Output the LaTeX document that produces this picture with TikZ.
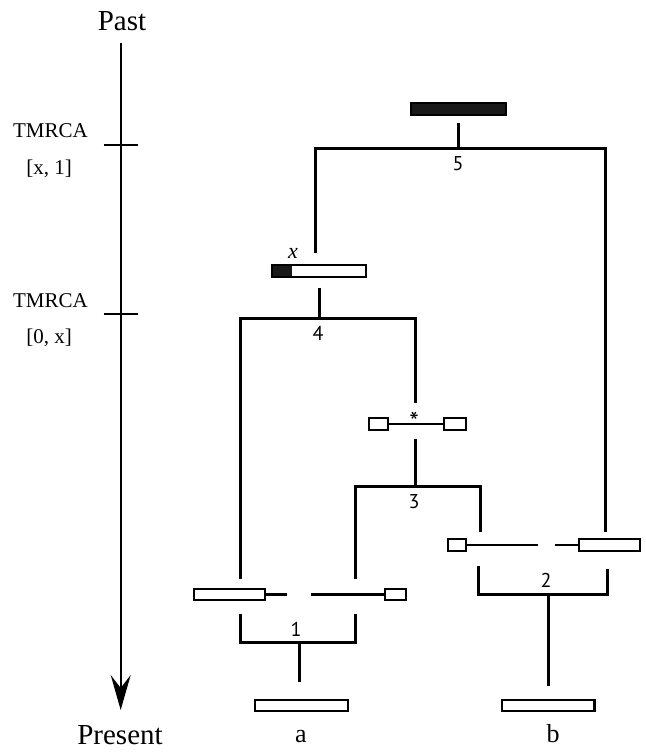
\documentclass[tikz,border=0pt]{standalone}
\usepackage{fontspec}
\setmainfont{Liberation Serif}
\newfontfamily\numfont{PT Sans}
\usepackage{tikz}
\usetikzlibrary{arrows.meta, positioning, calc}

\tikzset{
  seg/.style={draw, line width=2.2pt, fill=white, inner sep=0pt, outer sep=0pt, minimum height=11.3pt},
  ancseg/.style={seg, fill=black!90},
  xseg/.style={seg, path picture={\fill[black!90] (path picture bounding box.north west) rectangle ([xshift=20pt]path picture bounding box.south west);}},
  branch/.style={line width=3pt},
  link/.style={line width=2.2pt},
  timetick/.style={line width=2.2pt},
  evlbl/.style={font=\numfont\fontsize{20}{24}\selectfont, inner sep=0pt, anchor=base},
  bigtxt/.style={font=\fontsize{29}{34}\selectfont, inner sep=0pt, anchor=base},
  smalltxt/.style={font=\fontsize{21}{24}\selectfont, inner sep=0pt, anchor=base},
}

\begin{document}
\begin{tikzpicture}[x=1pt, y=-1pt]
\useasboundingbox (0,0) rectangle (645,752);

% Time axis
\node[bigtxt] (past) at (122,31) {Past};
\node[bigtxt] (present) at (120,744) {Present};
\coordinate (ttop) at (120.7,43);
\coordinate (tbot) at (120.7,710);
\draw[line width=1.7pt, -{Stealth[length=35pt, width=20pt, inset=13pt]}] (ttop) -- (tbot);
\coordinate (tk1) at (120.7,145);
\coordinate (tk2) at (120.7,314);
\draw[timetick] ([xshift=-17pt]tk1) -- ([xshift=17pt]tk1);
\draw[timetick] ([xshift=-17pt]tk2) -- ([xshift=17pt]tk2);
\node[smalltxt] (tm1) at (50.5,137) {TMRCA};
\node[smalltxt] (iv1) at (49,174) {[x, 1]};
\node[smalltxt] (tm2) at (50.5,307) {TMRCA};
\node[smalltxt] (iv2) at (49,343) {[0, x]};

% Segments
\node[ancseg, minimum width=94.8pt] (mrca) at (458.5,109) {};
\node[xseg, minimum width=93.8pt] (xanc) at (319,271) {};
\node[seg, minimum width=18.3pt] (c3l) at (378.5,424) {};
\node[seg, minimum width=21.3pt] (c3r) at (455,424) {};
\node[seg, minimum width=17.8pt] (c2l) at (457,545) {};
\node[seg, minimum width=60.8pt] (c2r) at (609.5,545) {};
\node[seg, minimum width=70.3pt] (c1l) at (229.5,594.5) {};
\node[seg, minimum width=20.8pt] (c1r) at (395.5,594.5) {};
\node[seg, minimum width=92.8pt] (sa) at (301.5,705.5) {};
\node[seg, minimum width=92.8pt] (sb) at (548,705.5) {};
\node[bigtxt, font=\fontsize{26}{30}\selectfont] (la) at (301,742) {a};
\node[bigtxt, font=\fontsize{26}{30}\selectfont] (lb) at (553,742) {b};
\node[inner sep=0pt, anchor=base, font=\itshape\fontsize{22}{26}\selectfont] (lx) at (293,258) {x};
\node[inner sep=0pt, font=\numfont\fontsize{27}{30}\selectfont] (mut) at (414,422) {*};

% Breakpoint links
\coordinate (g1l) at (287,594.5);
\coordinate (g1r) at (311,594.5);
\coordinate (g2l) at (538,545);
\coordinate (g2r) at (555,545);
\draw[link] (c1l.east) -- (g1l);
\draw[link] (g1r) -- (c1r.west);
\draw[link] (c2l.east) -- (g2l);
\draw[link] (g2r) -- (c2r.west);
\draw[link] (c3l.east) -- (c3r.west);

% Event 5
\coordinate (j5) at (458.5,148);
\coordinate (l5) at (315,253);
\coordinate (r5) at (605,532);
\draw[branch, shorten <=8pt] (mrca.south) -- (j5);
\draw[branch] (l5) |- (j5) -| (r5);
\node[evlbl] at (458,170) {5};

% Event 4
\coordinate (j4) at (319,318);
\coordinate (l4) at (240,579);
\coordinate (r4) at (415,403);
\draw[branch, shorten <=11pt] (xanc.south) -- (j4);
\draw[branch] (l4) |- (j4) -| (r4);
\node[evlbl] at (318,340) {4};

% Event 3
\coordinate (s3) at (415,439);
\coordinate (j3) at (415,486);
\coordinate (l3) at (355,579);
\coordinate (r3) at (480,532);
\draw[branch] (s3) -- (j3);
\draw[branch] (l3) |- (j3) -| (r3);
\node[evlbl] at (414,508) {3};

% Event 2
\coordinate (j2) at (548,594);
\coordinate (l2) at (478,566);
\coordinate (r2) at (607,569);
\draw[branch] (l2) |- (j2) -| (r2);
\draw[branch, shorten >=14pt] (j2) -- (sb.north);
\node[evlbl] at (546,587) {2};

% Event 1
\coordinate (j1) at (299,642);
\coordinate (l1) at (240.7,614);
\coordinate (r1) at (355,614);
\draw[branch] (l1) |- (j1) -| (r1);
\draw[branch, shorten >=18pt] (j1) -- (j1 |- sa.north);
\node[evlbl] at (296,636) {1};
\end{tikzpicture}
\end{document}
